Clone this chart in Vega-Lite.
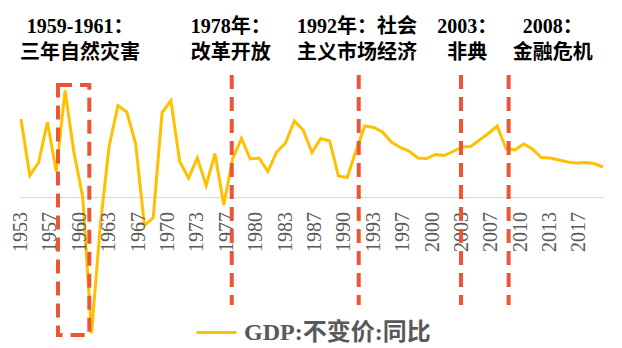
{
  "$schema": "https://vega.github.io/schema/vega-lite/v6.json",
  "width": 583,
  "height": 348,
  "autosize": {"type": "none"},
  "padding": {"left": 20, "right": 19, "top": 0, "bottom": 0},
  "background": "white",
  "config": {
    "view": {"stroke": null}
  },
  "resolve": {"axis": {"x": "independent", "y": "independent"}},
  "datasets": {
    "gdp": [
      {"year": 1953, "growth": 15.6}, {"year": 1954, "growth": 4.3}, {"year": 1955, "growth": 6.9},
      {"year": 1956, "growth": 15.0}, {"year": 1957, "growth": 5.1}, {"year": 1958, "growth": 21.3},
      {"year": 1959, "growth": 9.0}, {"year": 1960, "growth": 0.0}, {"year": 1961, "growth": -27.3},
      {"year": 1962, "growth": -5.6}, {"year": 1963, "growth": 10.2}, {"year": 1964, "growth": 18.3},
      {"year": 1965, "growth": 17.0}, {"year": 1966, "growth": 10.7}, {"year": 1967, "growth": -5.7},
      {"year": 1968, "growth": -4.1}, {"year": 1969, "growth": 16.9}, {"year": 1970, "growth": 19.3},
      {"year": 1971, "growth": 7.1}, {"year": 1972, "growth": 3.8}, {"year": 1973, "growth": 7.8},
      {"year": 1974, "growth": 2.3}, {"year": 1975, "growth": 8.7}, {"year": 1976, "growth": -1.6},
      {"year": 1977, "growth": 7.6}, {"year": 1978, "growth": 11.7}, {"year": 1979, "growth": 7.6},
      {"year": 1980, "growth": 7.8}, {"year": 1981, "growth": 5.1}, {"year": 1982, "growth": 9.0},
      {"year": 1983, "growth": 10.8}, {"year": 1984, "growth": 15.2}, {"year": 1985, "growth": 13.4},
      {"year": 1986, "growth": 8.9}, {"year": 1987, "growth": 11.7}, {"year": 1988, "growth": 11.2},
      {"year": 1989, "growth": 4.2}, {"year": 1990, "growth": 3.9}, {"year": 1991, "growth": 9.3},
      {"year": 1992, "growth": 14.2}, {"year": 1993, "growth": 13.9}, {"year": 1994, "growth": 13.0},
      {"year": 1995, "growth": 11.0}, {"year": 1996, "growth": 9.9}, {"year": 1997, "growth": 9.2},
      {"year": 1998, "growth": 7.8}, {"year": 1999, "growth": 7.7}, {"year": 2000, "growth": 8.5},
      {"year": 2001, "growth": 8.3}, {"year": 2002, "growth": 9.1}, {"year": 2003, "growth": 10.0},
      {"year": 2004, "growth": 10.1}, {"year": 2005, "growth": 11.4}, {"year": 2006, "growth": 12.7},
      {"year": 2007, "growth": 14.2}, {"year": 2008, "growth": 9.7}, {"year": 2009, "growth": 9.4},
      {"year": 2010, "growth": 10.6}, {"year": 2011, "growth": 9.6}, {"year": 2012, "growth": 7.9},
      {"year": 2013, "growth": 7.8}, {"year": 2014, "growth": 7.4}, {"year": 2015, "growth": 7.0},
      {"year": 2016, "growth": 6.8}, {"year": 2017, "growth": 6.9}, {"year": 2018, "growth": 6.7},
      {"year": 2019, "growth": 6.0}
    ],
    "ticks": [
      {"year": 1953, "label": "1953"}, {"year": 1956.3333, "label": "1957"}, {"year": 1959.6667, "label": "1960"},
      {"year": 1963, "label": "1963"}, {"year": 1966.3333, "label": "1967"}, {"year": 1969.6667, "label": "1970"},
      {"year": 1973, "label": "1973"}, {"year": 1976.3333, "label": "1977"}, {"year": 1979.6667, "label": "1980"},
      {"year": 1983, "label": "1983"}, {"year": 1986.3333, "label": "1987"}, {"year": 1989.6667, "label": "1990"},
      {"year": 1993, "label": "1993"}, {"year": 1996.3333, "label": "1997"}, {"year": 1999.6667, "label": "2000"},
      {"year": 2003, "label": "2003"}, {"year": 2006.3333, "label": "2007"}, {"year": 2009.6667, "label": "2010"},
      {"year": 2013, "label": "2013"}, {"year": 2016.3333, "label": "2017"}
    ],
    "period": [
      {"year": 1957.2, "year_end": 1960.75, "event": "1959-1961"}
    ],
    "events": [
      {"year": 1976.9, "event": "1978"},
      {"year": 1991.3, "event": "1992"},
      {"year": 2002.9, "event": "2003"},
      {"year": 2008.3, "event": "2008"}
    ],
    "notes": [
      {"year": 1959.7, "label": "1959-1961：|三年自然灾害"},
      {"year": 1976.8, "label": "1978年：|改革开放"},
      {"year": 1991.1, "label": "1992年：社会|主义市场经济"},
      {"year": 2003.6, "label": "2003：|非典"},
      {"year": 2013.3, "label": "2008：|金融危机"}
    ]
  },
  "layer": [
    {
      "data": {"name": "gdp"},
      "mark": {"type": "line", "strokeWidth": 3},
      "encoding": {
        "x": {
          "field": "year", "type": "quantitative",
          "scale": {"domain": [1952.89, 2019], "nice": false, "zero": false},
          "axis": {
            "orient": "bottom",
            "offset": -151,
            "labels": false,
            "ticks": false,
            "grid": false,
            "domainColor": "#D9D9D9",
            "domainWidth": 1,
            "title": null
          }
        },
        "y": {
          "field": "growth", "type": "quantitative",
          "scale": {"domain": [-30.2, 39.4], "nice": false, "zero": false},
          "axis": null
        },
        "color": {
          "datum": "GDP:不变价:同比", "type": "nominal",
          "scale": {"range": ["#FFC000"]},
          "legend": {
            "orient": "none",
            "legendX": 175,
            "legendY": 311,
            "title": null,
            "padding": 0,
            "symbolType": "stroke",
            "symbolSize": 1600,
            "symbolStrokeWidth": 3,
            "labelFont": "Liberation Serif, Noto Sans CJK SC",
            "labelFontSize": 24,
            "labelFontWeight": "bold",
            "labelColor": "#595959",
            "labelOffset": 6,
            "labelLimit": 400
          }
        }
      }
    },
    {
      "data": {"name": "ticks"},
      "mark": {"type": "text", "angle": 270, "align": "right", "baseline": "middle", "font": "Liberation Serif", "fontSize": 20, "color": "#595959"},
      "encoding": {
        "x": {"field": "year", "type": "quantitative", "axis": null},
        "y": {"datum": -3.0, "type": "quantitative", "axis": null},
        "text": {"field": "label"}
      }
    },
    {
      "data": {"name": "period"},
      "mark": {"type": "rect", "filled": false, "stroke": "#EE5535", "strokeWidth": 4, "strokeDash": [14, 8]},
      "encoding": {
        "x": {"field": "year", "type": "quantitative", "axis": null},
        "x2": {"field": "year_end"},
        "y": {"datum": 22.4, "type": "quantitative", "axis": null},
        "y2": {"datum": -27.6}
      }
    },
    {
      "data": {"name": "events"},
      "mark": {"type": "rule", "color": "#EE5535", "strokeWidth": 4, "strokeDash": [14, 8]},
      "encoding": {
        "x": {"field": "year", "type": "quantitative", "axis": null},
        "y": {"datum": 24.4, "type": "quantitative", "axis": null},
        "y2": {"datum": -21.6}
      }
    },
    {
      "data": {"name": "notes"},
      "mark": {"type": "text", "font": "Liberation Serif, Noto Sans CJK SC", "fontSize": 20, "fontWeight": "bold", "align": "center", "baseline": "alphabetic", "lineBreak": "|", "lineHeight": 26, "color": "#000000"},
      "encoding": {
        "x": {"field": "year", "type": "quantitative", "axis": null},
        "y": {"datum": 32.8, "type": "quantitative", "axis": null},
        "text": {"field": "label"}
      }
    }
  ]
}
